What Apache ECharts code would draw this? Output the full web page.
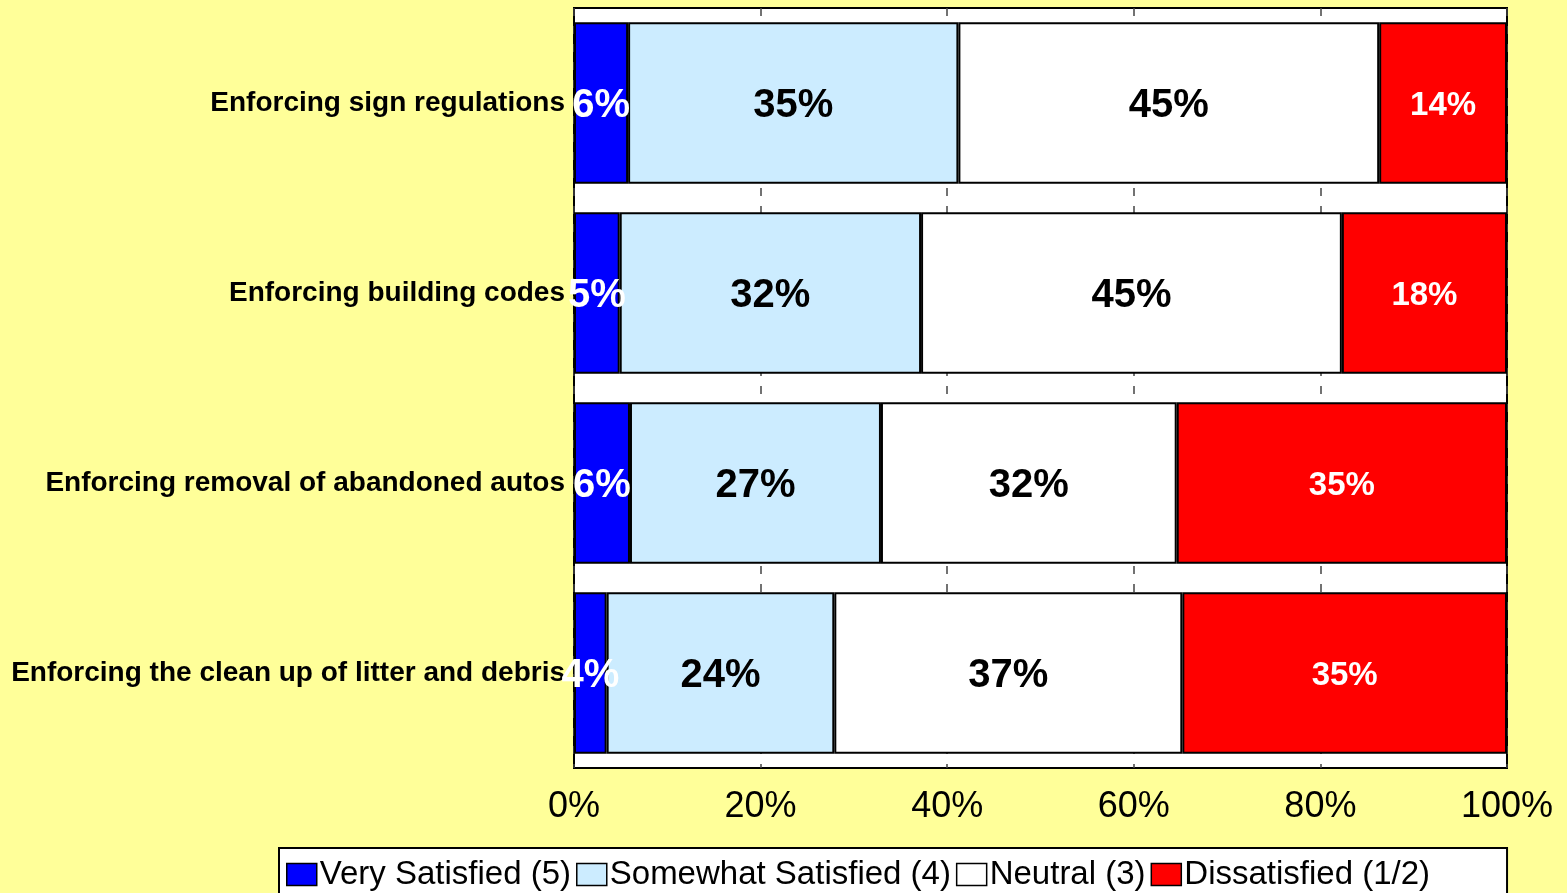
<!DOCTYPE html>
<html>
<head>
<meta charset="utf-8">
<script src="https://cdn.jsdelivr.net/npm/echarts@6/dist/echarts.min.js"></script>
<style>
  html, body { margin: 0; padding: 0; background: #FFFF99; }
  #chart { width: 1567px; height: 893px; }
</style>
</head>
<body>
<div id="chart"></div>
<script>
const categories = [
  'Enforcing sign regulations',
  'Enforcing building codes',
  'Enforcing removal of abandoned autos',
  'Enforcing the clean up of litter and debris'
]
const verySatisfied = [5.8, 4.9, 6.0, 3.5]
const somewhatSatisfied = [35.4, 32.3, 26.9, 24.4]
const neutral = [45.1, 45.1, 31.7, 37.3]
const dissatisfied = [13.7, 17.7, 35.4, 34.8]
const xTicks = [0, 20, 40, 60, 80, 100]

const font = 'Liberation Sans, Arial, sans-serif'

const makeSeries = (name, data, color, labelColor, labelSize) => ({
  name,
  type: 'bar',
  stack: 'total',
  data,
  barCategoryGap: '15%',
  itemStyle: { color, borderColor: '#000', borderWidth: 2 },
  label: {
    show: true,
    position: 'inside',
    offset: [0, 3],
    color: labelColor,
    fontFamily: font,
    fontWeight: 'bold',
    fontSize: labelSize,
    formatter: (p) => Math.round(p.value) + '%'
  }
})

const chart = echarts.init(document.getElementById('chart'))
chart.setOption({
  backgroundColor: '#FFFF99',
  animation: false,
  grid: {
    left: 574, right: 60, top: 8, bottom: 125,
    show: true, backgroundColor: '#fff', borderColor: '#000', borderWidth: 2
  },
  xAxis: {
    type: 'value',
    min: xTicks[0],
    max: xTicks[xTicks.length - 1],
    interval: 20,
    axisLine: { show: false },
    axisTick: { show: false },
    splitLine: { show: true, lineStyle: { color: '#444', width: 1.5, type: [8, 10] } },
    axisLabel: {
      margin: 21, fontSize: 36, color: '#000', fontFamily: font,
      formatter: '{value}%'
    }
  },
  yAxis: {
    type: 'category',
    inverse: true,
    data: categories,
    axisLine: { show: false },
    axisTick: { show: false },
    axisLabel: {
      margin: 9, fontSize: 28, fontWeight: 'bold', color: '#000', fontFamily: font
    }
  },
  legend: {
    left: 279,
    top: 848,
    padding: [10, 77, 10, 7],
    itemGap: 5,
    itemWidth: 30,
    itemHeight: 22,
    icon: 'rect',
    backgroundColor: '#fff',
    borderColor: '#000',
    borderWidth: 2,
    borderRadius: 0,
    textStyle: { fontSize: 33, color: '#000', fontFamily: font, padding: [0, 0, 0, -2] },
    itemStyle: { borderColor: '#000', borderWidth: 1.5 }
  },
  series: [
    makeSeries('Very Satisfied (5)', verySatisfied, '#0000FF', '#fff', 40),
    makeSeries('Somewhat Satisfied (4)', somewhatSatisfied, '#CCECFF', '#000', 40),
    makeSeries('Neutral (3)', neutral, '#FFFFFF', '#000', 40),
    makeSeries('Dissatisfied (1/2)', dissatisfied, '#FF0000', '#fff', 33)
  ]
})
</script>
</body>
</html>
